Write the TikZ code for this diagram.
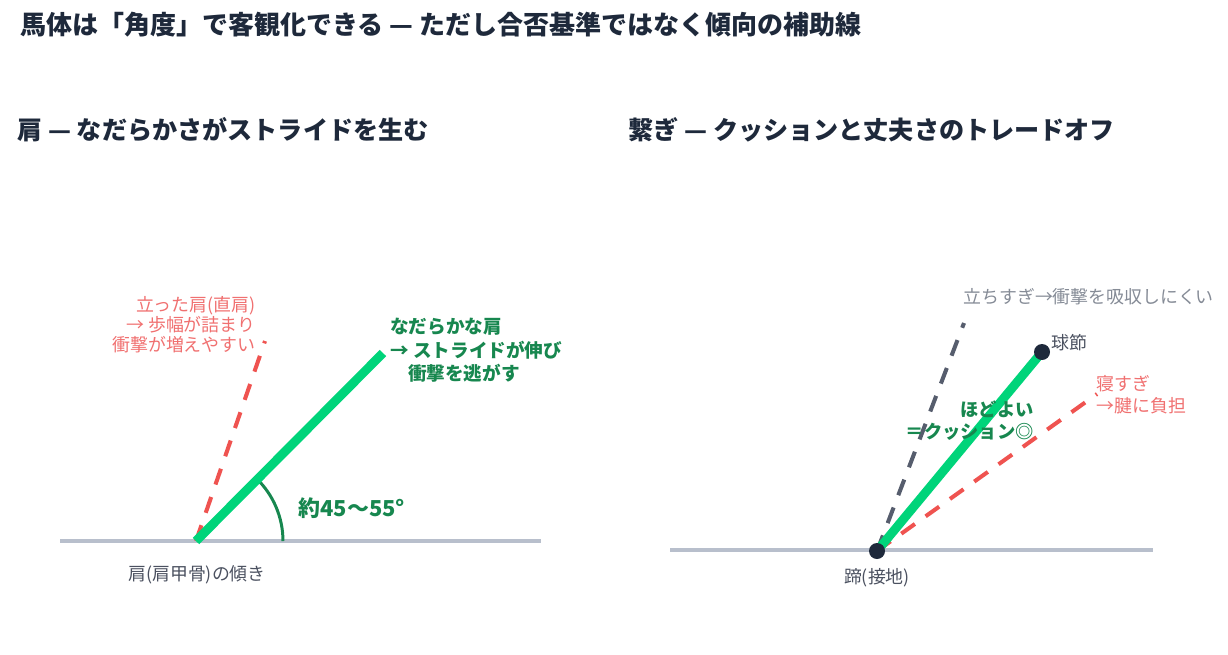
\documentclass[tikz,border=0pt]{standalone}
\usepackage{fontspec}
\setmainfont{Noto Sans CJK JP}
\usetikzlibrary{positioning}

\definecolor{encre}{HTML}{1E293B}
\definecolor{sol}{HTML}{B8BFCC}
\definecolor{vertvif}{HTML}{00D47A}
\definecolor{vertfonce}{HTML}{17874F}
\definecolor{rouge}{HTML}{EF5350}
\definecolor{saumon}{HTML}{F07070}
\definecolor{ardoise}{HTML}{565D6D}
\definecolor{grisclair}{HTML}{858B96}
\definecolor{grisfonce}{HTML}{4B5160}

\tikzset{
  titre/.style={anchor=west, inner sep=0pt, text=encre, font=\fontsize{14.8}{16}\selectfont\bfseries},
  soustitre/.style={anchor=west, inner sep=0pt, text=encre, font=\fontsize{14.3}{16}\selectfont\bfseries},
  ligneSol/.style={draw=sol, line width=2.3pt},
  bonAngle/.style={draw=vertvif, line width=5.1pt},
  tropDroit/.style={draw=rouge, line width=2.3pt, dash pattern=on 9.5pt off 7.5pt},
  tropGris/.style={draw=ardoise, line width=2.3pt, dash pattern=on 9.5pt off 7.5pt},
  point/.style={circle, fill=encre, inner sep=0pt, minimum size=0.32cm},
  legende/.style={inner sep=0pt, font=\fontsize{10.2}{11.3}\selectfont},
}

\begin{document}
\begin{tikzpicture}[x=0.02cm,y=-0.02cm]
\useasboundingbox (0,0) rectangle (1228,654);

\def \RayonArc {1.74cm}

% titres
\node[titre] (titre) at (20,25) {馬体は「角度」で客観化できる — ただし合否基準ではなく傾向の補助線};
\node[soustitre] (titreEpaule) at (17,130) {肩 — なだらかさがストライドを生む};
\node[soustitre] (titreParuron) at (628,130) {繋ぎ — クッションと丈夫さのトレードオフ};

%% panneau gauche : l'épaule
\coordinate (E0) at (196,541);
\coordinate (Eg) at (60,541);
\coordinate (Ed) at (541,541);
\coordinate (Ebon) at (383,353);
\coordinate (Edroit) at (265,341);

\draw[ligneSol] (Eg) -- (Ed);
\draw[tropDroit] (E0) -- (Edroit);
% arc de l'angle
\draw[vertfonce, line width=1.7pt] ([xshift=\RayonArc]E0) arc[start angle=0, end angle=46, radius=\RayonArc];
\draw[bonAngle] (E0) -- (Ebon);

\node[legende, anchor=west, text=vertfonce, font=\fontsize{12.5}{14}\selectfont\bfseries] (angle) at (298,508) {約45〜55°};
\node[legende, anchor=north east, align=right, text=saumon] (noteDroit) at (256,296) {立った肩(直肩)\\→ 歩幅が詰まり\\衝撃が増えやすい};
\node[legende, anchor=north west, align=left, text=vertfonce, font=\fontsize{10.6}{13.3}\selectfont\bfseries] (noteBon) at (390,318) {なだらかな肩\\→ ストライドが伸び\\\hspace*{0.95em}衝撃を逃がす};
\node[legende, text=grisfonce] (noteEpaule) at (197,575) {肩(肩甲骨)の傾き};

%% panneau droit : le paturon
\coordinate (Pg) at (670,550);
\coordinate (Pd) at (1153,550);
\coordinate (Psabot) at (877,551);
\coordinate (Pboulet) at (1042,352);
\coordinate (Pdroit) at (964,323);
\coordinate (Pcouche) at (1097,394);

\draw[ligneSol] (Pg) -- (Pd);
\draw[tropGris] (Psabot) -- (Pdroit);
\draw[tropDroit] (Psabot) -- (Pcouche);
\draw[bonAngle] (Psabot) -- (Pboulet);
\node[point] (sabot) at (Psabot) {};
\node[point] (boulet) at (Pboulet) {};

\node[legende, anchor=west, text=grisfonce] (noteBoulet) at (1051,343) {球節};
\node[legende, text=grisfonce] (noteSabot) at (877,578) {蹄(接地)};
\node[legende, anchor=west, text=grisclair] (noteGris) at (963,297) {立ちすぎ→衝撃を吸収しにくい};
\node[legende, anchor=north west, align=left, text=saumon, font=\fontsize{10.2}{12.4}\selectfont] (noteCouche) at (1096,375) {寝すぎ\\→腱に負担};
\node[legende, anchor=north east, align=right, text=vertfonce, font=\fontsize{10.4}{13}\selectfont\bfseries] (noteMilieu) at (1034,400) {ほどよい\\＝クッション◎};
\end{tikzpicture}
\end{document}
